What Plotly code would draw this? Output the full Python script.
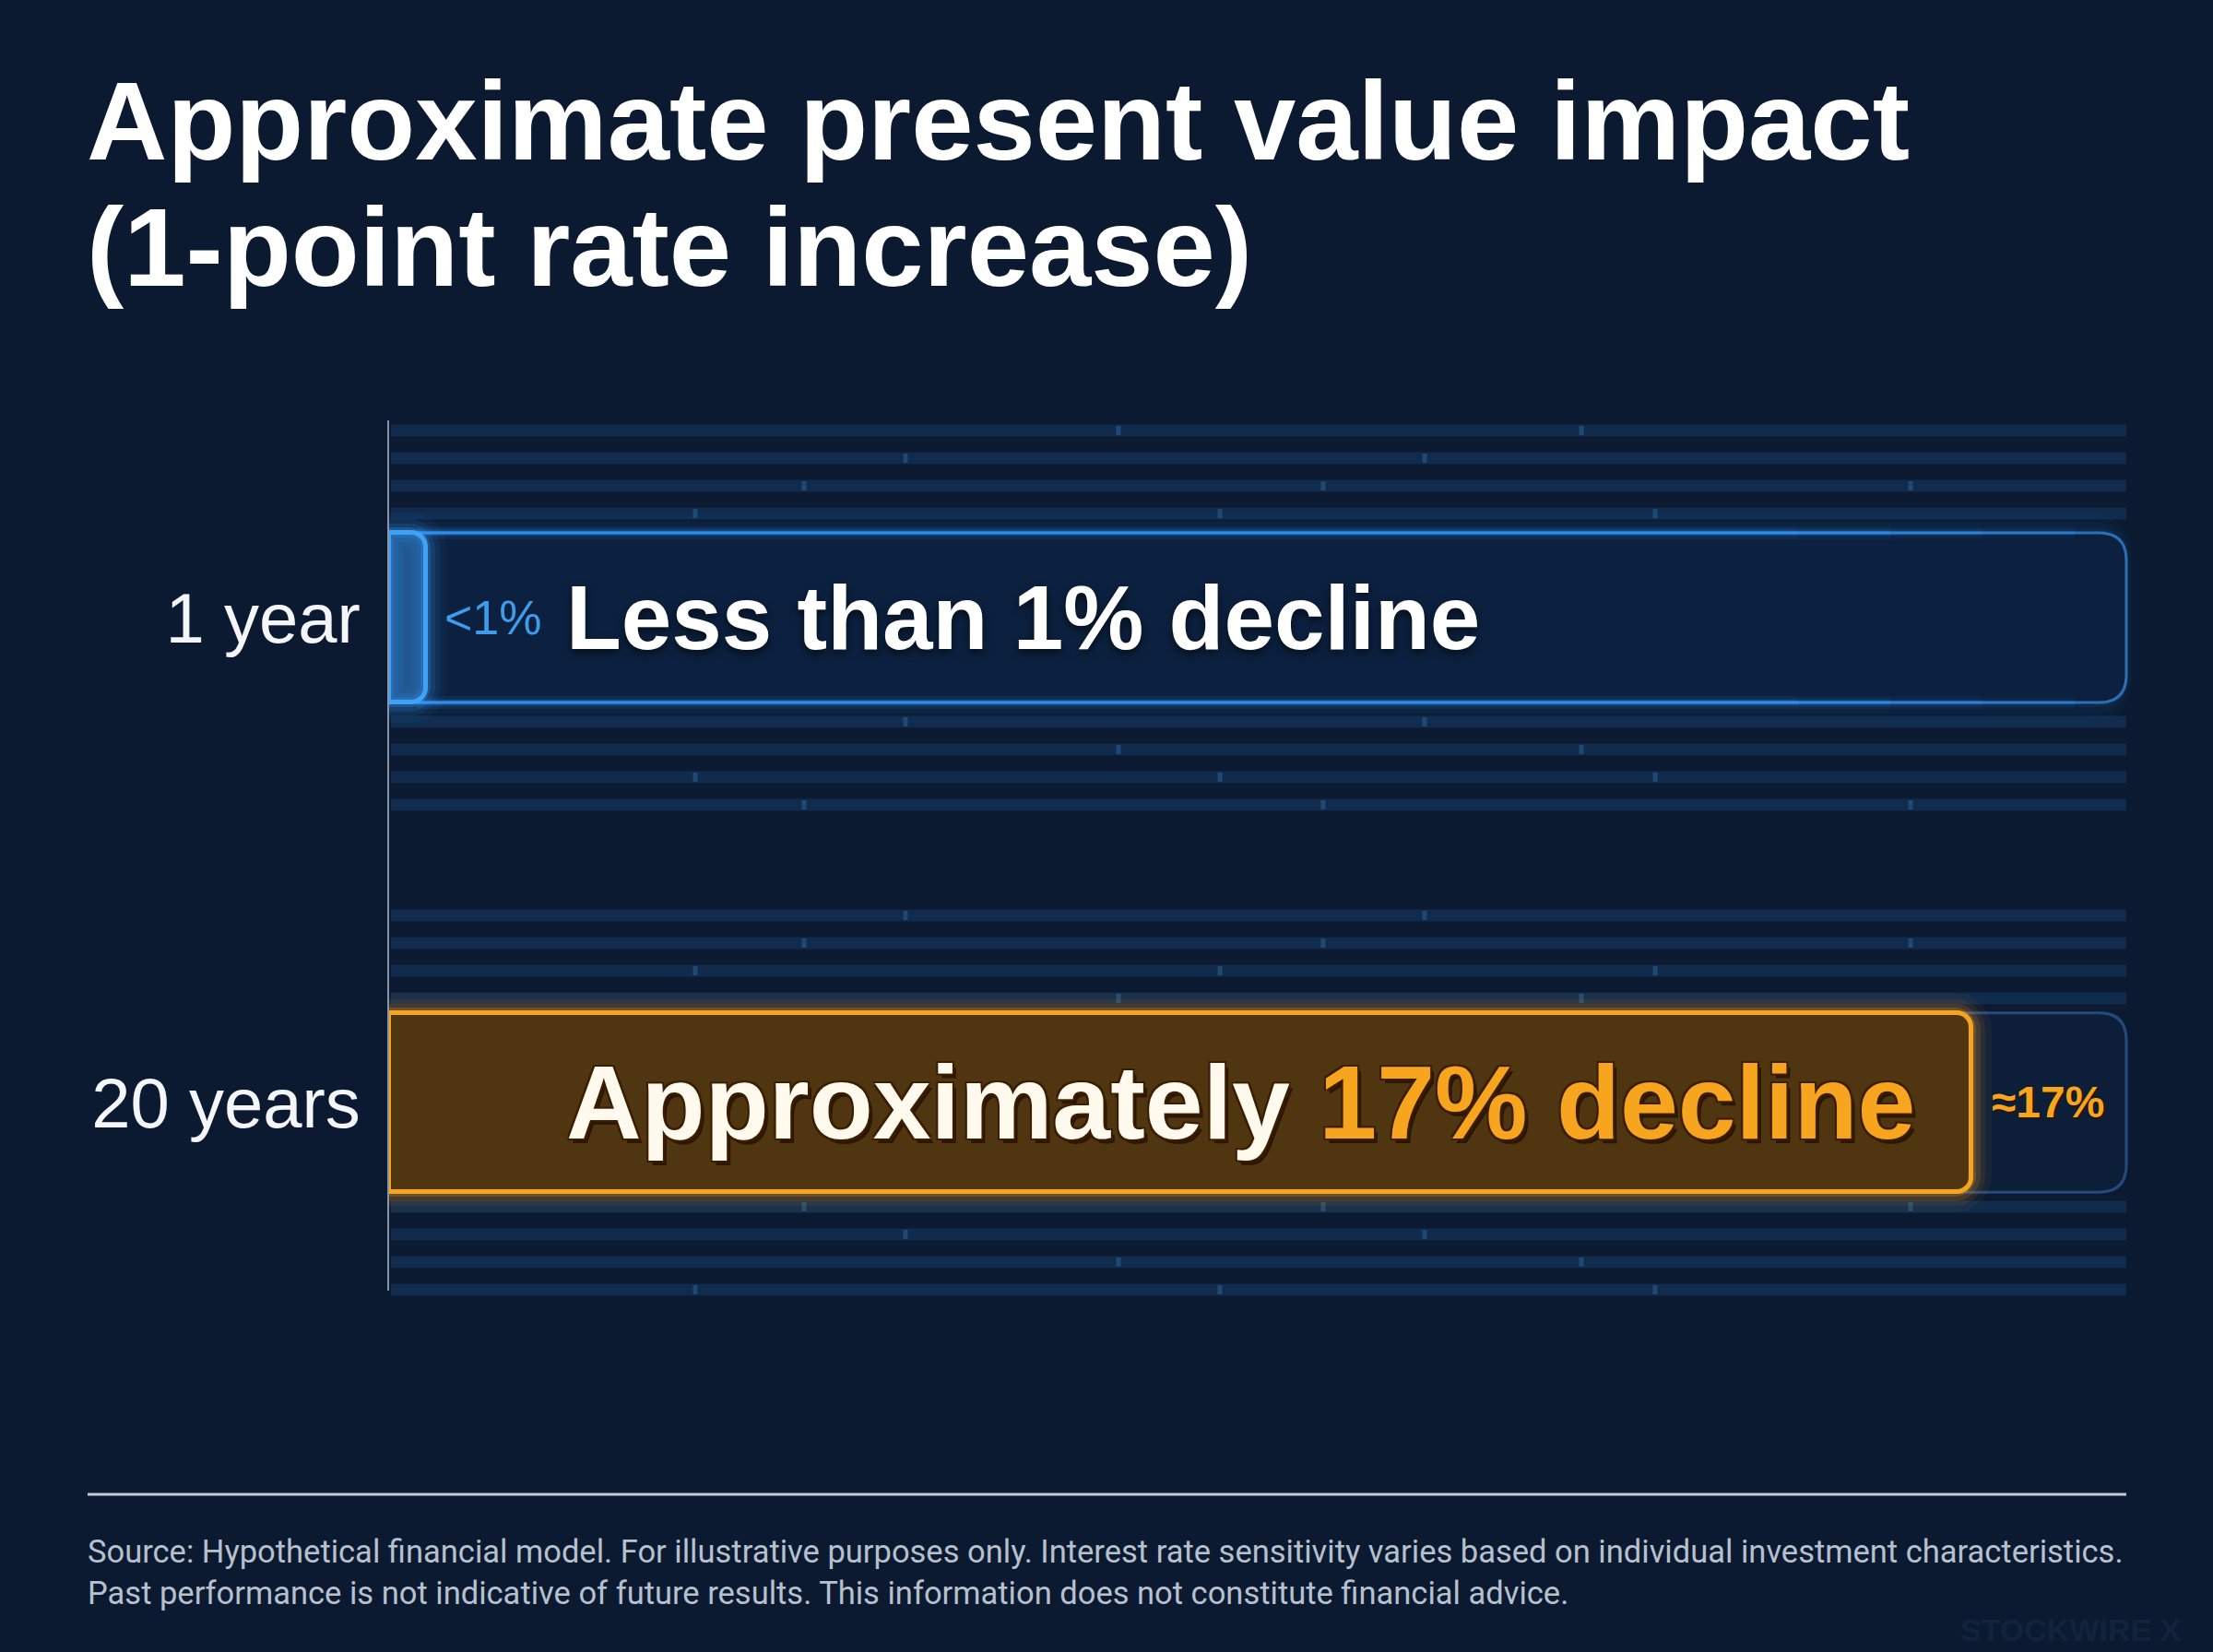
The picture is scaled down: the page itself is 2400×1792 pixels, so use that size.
import plotly.graph_objects as go

# ---------------- data ----------------
categories = ["1 year", "20 years"]
decline_pct = [0.4, 17.0]
value_labels = ["<1%", "≈17%"]
bar_texts = ["Less than 1% decline", "Approximately <span style='color:#f7a41f'>17% decline</span>"]
title_lines = ["Approximate present value impact", "(1-point rate increase)"]
footer_lines = [
    "Source: Hypothetical financial model. For illustrative purposes only. Interest rate sensitivity varies based on individual investment characteristics.",
    "Past performance is not indicative of future results. This information does not constitute financial advice.",
]
watermark = "STOCKWIRE X"

# ---------------- geometry ----------------
W, H = 2400, 1792
BG = "#0b1a31"
PX0, PX1 = 422, 2306      # plot area pixels (x)
PY0, PY1 = 456, 1400      # plot area pixels (y)
YR = [1.388, -0.407]      # reversed y range
XMAX = 18.66
bar_w = [0.35, 0.37]

def fx(px):
    return px / W

def fy(py):
    return 1 - py / H

def ypix(v):
    return PY0 + (v - YR[1]) / (YR[0] - YR[1]) * (PY1 - PY0)

ypos = list(range(len(categories)))

fig = go.Figure()

# glow layers for the bars
glow_cols = ["rgba(60,160,255,{a})", "rgba(255,165,30,{a})"]
for lw, a in [(44, 0.05), (30, 0.08), (20, 0.13), (11, 0.22)]:
    fig.add_trace(go.Bar(
        x=decline_pct, y=ypos, orientation="h", width=bar_w,
        marker=dict(color="rgba(0,0,0,0)",
                    line=dict(color=[c.format(a=a) for c in glow_cols], width=lw),
                    cornerradius=18),
        hoverinfo="skip", showlegend=False,
    ))

# main bars
fig.add_trace(go.Bar(
    x=decline_pct, y=ypos, orientation="h", width=bar_w,
    marker=dict(color=["rgba(50,130,210,0.55)", "#503610"],
                line=dict(color=["#3ea3f6", "#f7a51e"], width=5),
                cornerradius=16),
    hoverinfo="skip", showlegend=False,
))

shapes = []

# decorative horizontal stripes around each row
stripe_offsets = [113, 143, 173, 203]
tick_x = [754, 872, 982, 1213, 1323, 1435, 1545, 1715, 1795, 2072]
for i in ypos:
    cyp = ypix(i)
    for k, off in enumerate(stripe_offsets):
        for sgn in (-1, 1):
            c = cyp + sgn * off
            shapes.append(dict(type="rect", xref="paper", yref="paper", layer="below",
                               x0=fx(PX0 + 2), x1=fx(PX1), y0=fy(c - 6.5), y1=fy(c + 6.5),
                               line=dict(width=0), fillcolor="rgba(28,78,135,0.33)"))
            for j, tx in enumerate(tick_x):
                if (j * 7 + k * 5 + (sgn + 1) * 3 + i * 11) % 4 == 0:
                    shapes.append(dict(type="rect", xref="paper", yref="paper", layer="below",
                                       x0=fx(tx - 2.5), x1=fx(tx + 2.5), y0=fy(c - 5), y1=fy(c + 5),
                                       line=dict(width=0), fillcolor="rgba(60,130,190,0.35)"))

def track_path(x0, x1, y0, y1, r):
    pts = [
        f"M {fx(x0)},{fy(y0)}",
        f"L {fx(x1 - r)},{fy(y0)}",
        f"Q {fx(x1)},{fy(y0)} {fx(x1)},{fy(y0 + r)}",
        f"L {fx(x1)},{fy(y1 - r)}",
        f"Q {fx(x1)},{fy(y1)} {fx(x1 - r)},{fy(y1)}",
        f"L {fx(x0)},{fy(y1)}",
        "Z",
    ]
    return " ".join(pts)

# track backgrounds
for i in ypos:
    t0 = ypix(i - bar_w[i] / 2)
    t1 = ypix(i + bar_w[i] / 2)
    if i == 0:
        for grow, a in [(22, 0.035), (12, 0.05), (5, 0.07)]:
            shapes.append(dict(type="path", xref="paper", yref="paper", layer="below",
                               path=track_path(PX0, PX1 + grow * 0.3, t0 - grow, t1 + grow, 30 + grow),
                               line=dict(width=0), fillcolor=f"rgba(40,130,235,{a})"))
        shapes.append(dict(type="path", xref="paper", yref="paper", layer="below",
                           path=track_path(PX0, PX1, t0, t1, 30),
                           line=dict(color="rgba(52,125,200,0.85)", width=3),
                           fillcolor="#0c213f"))
        segs = [(PX0 + 30, 1950, 1.0), (1950, 2050, 0.75), (2050, 2150, 0.5), (2150, 2250, 0.3)]
        for yy in (t0, t1):
            for xa, xb, f in segs:
                for lw, a in [(14, 0.10), (7, 0.22), (3, 0.95)]:
                    shapes.append(dict(type="line", xref="paper", yref="paper", layer="below",
                                       x0=fx(xa), x1=fx(xb), y0=fy(yy), y1=fy(yy),
                                       line=dict(color=f"rgba(47,143,238,{a * f:.3f})", width=lw)))
    else:
        shapes.append(dict(type="path", xref="paper", yref="paper", layer="below",
                           path=track_path(PX0, PX1, t0, t1, 30),
                           line=dict(color="rgba(38,78,128,0.95)", width=3),
                           fillcolor="#0c1e38"))

# footer rule
shapes.append(dict(type="line", xref="paper", yref="paper",
                   x0=fx(95), x1=fx(2306), y0=fy(1621), y1=fy(1621),
                   line=dict(color="#c3cbd8", width=3)))

annotations = []
for txt, cy in zip(title_lines, [131, 268]):
    annotations.append(dict(text=txt, xref="paper", yref="paper", x=fx(92), y=fy(cy),
                            xanchor="left", yanchor="middle", showarrow=False,
                            font=dict(family="Liberation Sans", size=121, color="#ffffff", weight="bold")))

val_cols = ["#3d9cec", "#f7a41f"]
val_sizes = [52, 48]
val_shift = [18, 20]
for i in ypos:
    annotations.append(dict(text=value_labels[i], xref="x", yref="y", x=decline_pct[i], y=i,
                            xanchor="left", yanchor="middle", xshift=val_shift[i], showarrow=False,
                            font=dict(family="Liberation Sans", size=val_sizes[i], color=val_cols[i],
                                      weight="bold" if i == 1 else "normal",
                                      shadow="2px 2px 0px #2a1500" if i == 1 else "none")))

big_sizes = [98, 113]
big_shadow = ["0px 4px 10px rgba(0,0,0,0.6)",
              "-2px -2px 0 #3b1e02, 2px -2px 0 #3b1e02, -2px 2px 0 #3b1e02, 2px 2px 0 #3b1e02, 4px 5px 0 #2e1700"]
big_cols = ["#ffffff", "#fff9ee"]
for i in ypos:
    annotations.append(dict(text=bar_texts[i], xref="x domain", yref="y", x=0.1008, y=i,
                            xanchor="left", yanchor="middle", showarrow=False,
                            font=dict(family="Liberation Sans", size=big_sizes[i], color=big_cols[i],
                                      weight="bold", shadow=big_shadow[i])))

for txt, cy in zip(footer_lines, [1683, 1728]):
    annotations.append(dict(text=txt, xref="paper", yref="paper", x=fx(93), y=fy(cy),
                            xanchor="left", yanchor="middle", showarrow=False,
                            font=dict(family="Roboto", size=34.5, color="#b7c0cd")))

annotations.append(dict(text=watermark, xref="paper", yref="paper", x=fx(2368), y=fy(1768),
                        xanchor="right", yanchor="middle", showarrow=False,
                        font=dict(family="Liberation Sans", size=34, color="#12233d", weight="bold")))

fig.update_layout(
    width=W, height=H,
    paper_bgcolor=BG, plot_bgcolor="rgba(0,0,0,0)",
    margin=dict(l=0, r=0, t=0, b=0, autoexpand=False),
    barmode="overlay",
    bargap=0,
    shapes=shapes,
    annotations=annotations,
    xaxis=dict(domain=[fx(PX0), fx(PX1)], range=[0, XMAX], showgrid=False, zeroline=False,
               showticklabels=False, showline=False, fixedrange=True),
    yaxis=dict(domain=[fy(PY1), fy(PY0)], range=YR, tickvals=ypos, ticktext=categories,
               showgrid=False, zeroline=False, ticks="", ticklabelstandoff=14,
               showline=True, linecolor="#8893a6", linewidth=2,
               tickfont=dict(family="Liberation Sans", size=76, color="#f4f6f9")),
    font=dict(family="Liberation Sans"),
)

fig.write_html("out.html", config={"displayModeBar": False},
               post_script="document.body.style.margin='0';document.body.style.background='%s';" % BG)
